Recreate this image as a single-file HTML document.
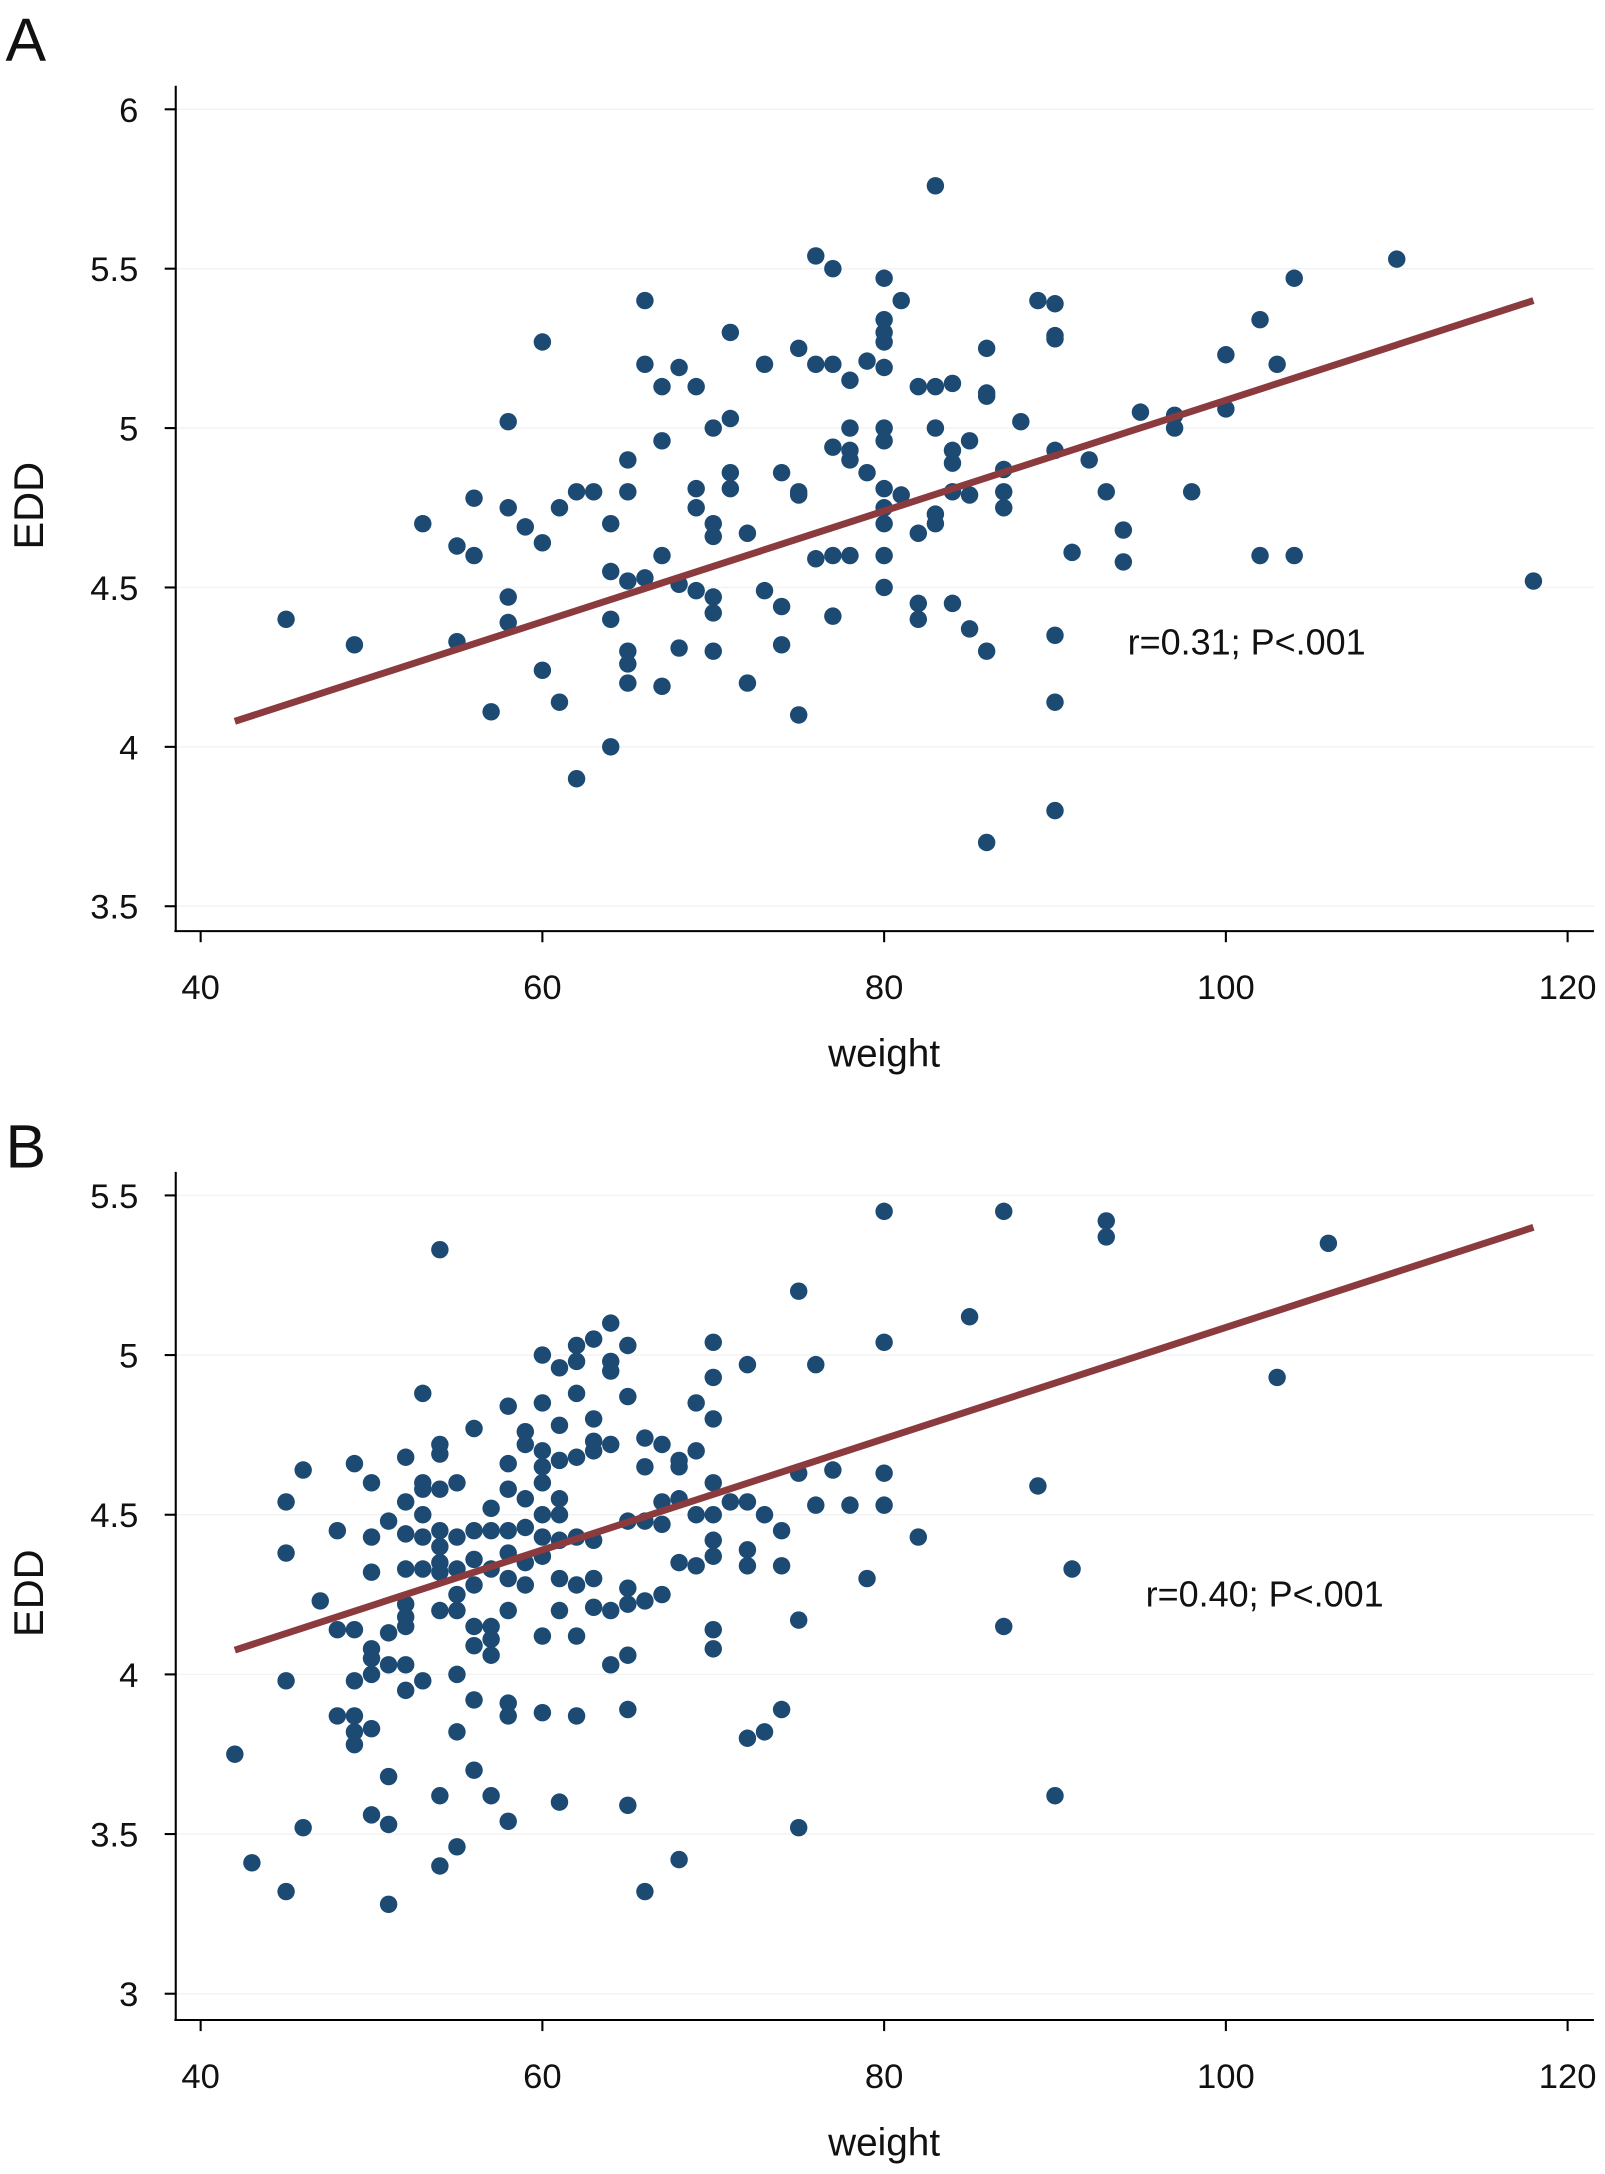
<!DOCTYPE html>
<html><head><meta charset="utf-8"><style>
html,body{margin:0;padding:0;background:#fff}
svg{display:block}
text{font-family:"Liberation Sans",sans-serif;fill:#111}
</style></head><body>
<svg id="chart" width="1605" height="2174" viewBox="0 0 1160 1571.3" xmlns="http://www.w3.org/2000/svg"></svg>
<script>
const xTicks=[40,60,80,100,120];
const yTicksA=[3.5,4,4.5,5,5.5,6];
const yTicksB=[3,3.5,4,4.5,5,5.5];
const weightA=[45,49,53,55,55,56,56,57,58,58,58,58,59,60,60,60,61,61,62,62,63,64,64,64,64,65,65,65,65,65,65,66,66,66,67,67,67,67,68,68,68,69,69,69,69,70,70,70,70,70,70,71,71,71,71,72,72,73,73,74,74,74,75,75,75,75,76,76,76,77,77,77,77,77,78,78,78,78,78,79,79,80,80,80,80,80,80,80,80,80,80,80,80,81,81,82,82,82,82,83,83,83,83,83,84,84,84,84,84,85,85,85,86,86,86,86,86,87,87,87,88,89,90,90,90,90,90,90,90,91,92,93,94,94,95,97,97,98,100,100,102,102,103,104,104,110,118];
const eddA=[4.40,4.32,4.70,4.63,4.33,4.78,4.60,4.11,5.02,4.75,4.47,4.39,4.69,5.27,4.64,4.24,4.75,4.14,4.80,3.90,4.80,4.70,4.55,4.40,4.00,4.90,4.80,4.52,4.30,4.26,4.20,5.40,5.20,4.53,5.13,4.96,4.60,4.19,5.19,4.51,4.31,5.13,4.81,4.75,4.49,5.00,4.70,4.66,4.47,4.42,4.30,5.03,4.86,4.81,5.30,4.67,4.20,5.20,4.49,4.86,4.44,4.32,5.25,4.80,4.79,4.10,5.54,5.20,4.59,5.50,5.20,4.94,4.60,4.41,5.15,5.00,4.93,4.90,4.60,5.21,4.86,5.47,5.34,5.30,5.27,5.19,5.00,4.96,4.81,4.75,4.70,4.60,4.50,5.40,4.79,5.13,4.67,4.45,4.40,5.76,5.13,5.00,4.73,4.70,5.14,4.93,4.89,4.80,4.45,4.96,4.79,4.37,5.25,5.11,5.10,4.30,3.70,4.87,4.80,4.75,5.02,5.40,5.39,5.29,5.28,4.93,4.35,4.14,3.80,4.61,4.90,4.80,4.68,4.58,5.05,5.04,5.00,4.80,5.23,5.06,5.34,4.60,5.20,5.47,4.60,5.53,4.52];
const weightB=[42,43,45,45,45,45,46,46,47,48,48,48,49,49,49,49,49,49,50,50,50,50,50,50,50,50,51,51,51,51,51,51,52,52,52,52,52,52,52,52,52,53,53,53,53,53,53,53,54,54,54,54,54,54,54,54,54,54,54,55,55,55,55,55,55,55,55,56,56,56,56,56,56,56,56,57,57,57,57,57,57,57,58,58,58,58,58,58,58,58,58,58,59,59,59,59,59,59,60,60,60,60,60,60,60,60,60,60,61,61,61,61,61,61,61,61,61,62,62,62,62,62,62,62,62,63,63,63,63,63,63,63,64,64,64,64,64,64,65,65,65,65,65,65,65,65,66,66,66,66,66,67,67,67,67,68,68,68,68,68,69,69,69,69,70,70,70,70,70,70,70,70,70,71,72,72,72,72,72,73,73,74,74,74,75,75,75,75,76,76,77,78,79,80,80,80,80,82,85,87,87,89,90,91,93,93,103,106];
const eddB=[3.75,3.41,4.54,4.38,3.98,3.32,4.64,3.52,4.23,4.45,4.14,3.87,4.66,4.14,3.98,3.87,3.82,3.78,4.60,4.43,4.32,4.08,4.05,4.00,3.83,3.56,4.48,4.13,4.03,3.68,3.53,3.28,4.68,4.54,4.44,4.33,4.22,4.18,4.15,4.03,3.95,4.88,4.60,4.58,4.50,4.43,4.33,3.98,5.33,4.72,4.69,4.58,4.45,4.40,4.35,4.32,4.20,3.62,3.40,4.60,4.43,4.33,4.25,4.20,4.00,3.82,3.46,4.77,4.45,4.36,4.28,4.15,4.09,3.92,3.70,4.52,4.45,4.33,4.15,4.11,4.06,3.62,4.84,4.66,4.58,4.45,4.38,4.30,4.20,3.91,3.87,3.54,4.76,4.72,4.55,4.46,4.35,4.28,5.00,4.85,4.70,4.65,4.60,4.50,4.43,4.37,4.12,3.88,4.96,4.78,4.67,4.55,4.50,4.42,4.30,4.20,3.60,5.03,4.98,4.88,4.68,4.43,4.28,4.12,3.87,5.05,4.80,4.73,4.70,4.42,4.30,4.21,5.10,4.98,4.95,4.72,4.20,4.03,5.03,4.87,4.48,4.27,4.22,4.06,3.89,3.59,4.74,4.65,4.48,4.23,3.32,4.72,4.54,4.47,4.25,4.67,4.65,4.55,4.35,3.42,4.85,4.70,4.50,4.34,5.04,4.93,4.80,4.60,4.50,4.42,4.37,4.14,4.08,4.54,4.97,4.54,4.39,4.34,3.80,4.50,3.82,4.45,4.34,3.89,5.20,4.63,4.17,3.52,4.97,4.53,4.64,4.53,4.30,5.45,5.04,4.63,4.53,4.43,5.12,5.45,4.15,4.59,3.62,4.33,5.42,5.37,4.93,5.35];
const fitA=[[42,4.08],[118,5.40]];
const fitB=[[42,4.076],[118,5.40]];

const NS="http://www.w3.org/2000/svg";
const svg=document.getElementById('chart');
function mk(tag,attrs,parent){const e=document.createElementNS(NS,tag);for(const k in attrs)e.setAttribute(k,attrs[k]);(parent||svg).appendChild(e);return e;}
function txt(s,attrs,parent){const e=mk('text',attrs,parent);e.textContent=s;return e;}

function panel(cfg){
  const g=mk('g',{});
  
  
  const xs=v=>145+(v-40)*(1133-145)/80;
  const ys=v=>cfg.y0+(v-cfg.v0)*cfg.k;
  const L=txt(cfg.letter,{x:4,y:cfg.letterY,'font-size':44},g);
  
  
  cfg.yt.forEach(t=>{
    const y=ys(t);
    const gl=mk('line',{x1:127,x2:1152,y1:y,y2:y,stroke:'#f2f2f2','stroke-width':1},g);
    
    
    mk('line',{x1:119,x2:127,y1:y,y2:y,stroke:'#000','stroke-width':1.5},g);
    const tl=txt(String(t),{x:100,y:y+9,'font-size':25,'text-anchor':'end'},g);
    
    
  });
  xTicks.forEach(t=>{
    const x=xs(t);
    mk('line',{x1:x,x2:x,y1:cfg.axisY,y2:cfg.axisY+8,stroke:'#000','stroke-width':1.5},g);
    const tl=txt(String(t),{x:x,y:cfg.axisY+49,'font-size':25,'text-anchor':'middle'},g);
    
    
  });
  const ya=mk('line',{x1:127,x2:127,y1:cfg.axisTop,y2:cfg.axisY,stroke:'#000','stroke-width':1.5},g);
  
  
  const xa=mk('line',{x1:126,x2:1152,y1:cfg.axisY,y2:cfg.axisY,stroke:'#000','stroke-width':1.5},g);
  
  
  const xt=txt('weight',{x:639,y:cfg.axisY+98,'font-size':28,'text-anchor':'middle'},g);
  
  
  const yc=(cfg.axisTop+cfg.axisY)/2;
  const yt=txt('EDD',{x:0,y:0,'font-size':30,'text-anchor':'middle',transform:`translate(31,${yc-2}) rotate(-90)`},g);
  
  
  cfg.wx.forEach((w,i)=>{
    const c=mk('circle',{cx:xs(w),cy:ys(cfg.ey[i]),r:6.3,fill:'#1c4a73'},g);
    
    
  });
  const f=cfg.fit;
  const fl=mk('line',{x1:xs(f[0][0]),y1:ys(f[0][1]),x2:xs(f[1][0]),y2:ys(f[1][1]),stroke:'#8b3a3e','stroke-width':5},g);
  
  
  const an=txt(cfg.note,{x:cfg.noteX,y:cfg.noteY,'font-size':26},g);
  
  
}
panel({name:'panel-a',letter:'A',letterY:44,wx:weightA,ey:eddA,yt:yTicksA,v0:6,y0:79,k:-(655-79)/2.5,axisTop:62,axisY:673,fit:fitA,note:'r=0.31; P<.001',noteX:815,noteY:473});
panel({name:'panel-b',letter:'B',letterY:844,wx:weightB,ey:eddB,yt:yTicksB,v0:5.5,y0:864,k:-(1441-864)/2.5,axisTop:847,axisY:1460,fit:fitB,note:'r=0.40; P<.001',noteX:828,noteY:1161});
</script>
</body></html>
